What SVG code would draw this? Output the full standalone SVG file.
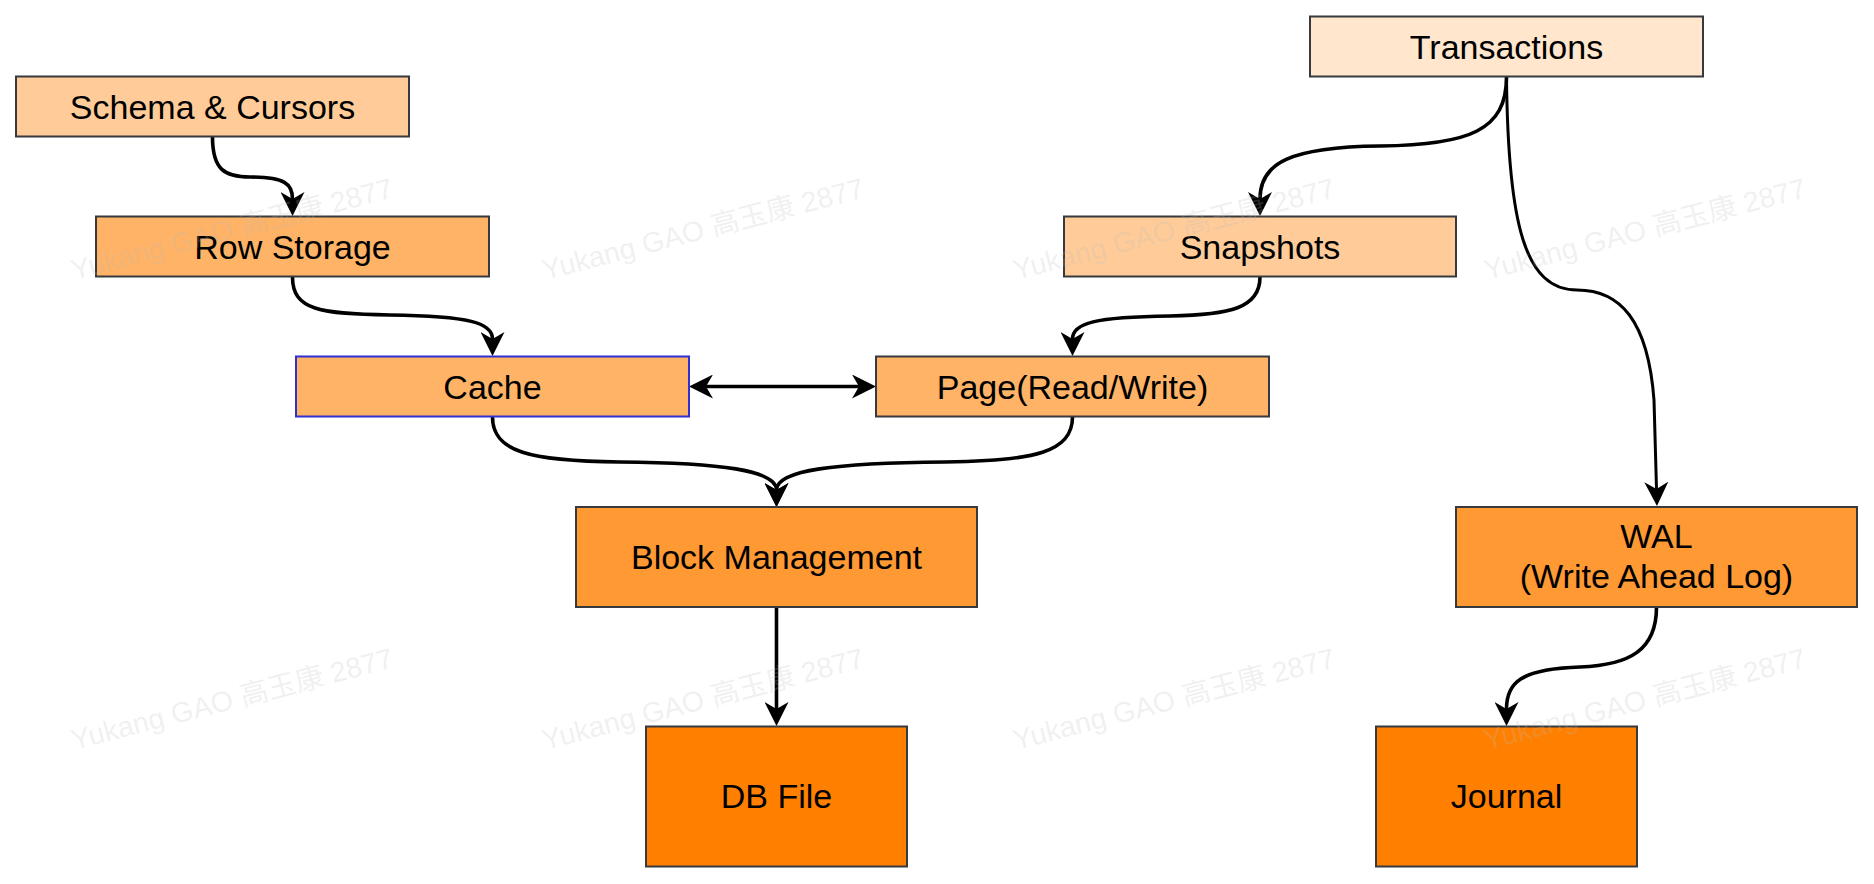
<svg xmlns="http://www.w3.org/2000/svg" width="1874" height="884" viewBox="0 0 1874 884">
<style>
.box{stroke:#36393d;stroke-width:2}
.lbl{font-family:"Liberation Sans",Arial,sans-serif;font-size:34px;fill:#000;text-anchor:middle}
.edge{fill:none;stroke:#000;stroke-width:3.6}
.thin{stroke-width:3}
.wm{font-family:"Liberation Sans","Noto Sans CJK SC",sans-serif;font-size:28.5px;fill:#bbbbbb;fill-opacity:0.22}
</style>
<defs>
<marker id="arr" markerUnits="userSpaceOnUse" viewBox="0 0 24 24" markerWidth="24" markerHeight="24" refX="7" refY="12" orient="auto-start-reverse">
<path d="M0,0 L24,12 L0,24 L7,12 Z" fill="#000"/>
</marker>
</defs>
<rect width="1874" height="884" fill="#ffffff"/>

<g id="connectors">
<path class="edge" d="M212.5,137 C212.5,170 225,177 250,177 C285,177 292.5,184 292.5,199" marker-end="url(#arr)"/>
<path class="edge" d="M292.5,277 C292.5,310 320,314 390,315 C470,316 492.5,323 492.5,339" marker-end="url(#arr)"/>
<path class="edge" d="M1506.5,77 C1506.5,130 1470,145 1380,146 C1290,147 1260,163 1260,199" marker-end="url(#arr)"/>
<path class="edge" d="M1260,277 C1260,308 1230,315 1170,316 C1095,317 1072.5,323 1072.5,339" marker-end="url(#arr)"/>
<path class="edge thin" d="M1506.5,77 C1508,225 1525,290 1577,290 C1620,290 1648,320 1654,400 L1656.5,489" marker-end="url(#arr)"/>
<path class="edge" d="M706,386.5 L859,386.5" marker-start="url(#arr)" marker-end="url(#arr)"/>
<path class="edge" d="M492.5,417 C492.5,452 530,461 620,462 C720,463 776.5,470 776.5,490" marker-end="url(#arr)"/>
<path class="edge" d="M1072.5,417 C1072.5,452 1035,461 945,462 C835,463 776.5,470 776.5,490" marker-end="url(#arr)"/>
<path class="edge" d="M776.5,607 L776.5,709" marker-end="url(#arr)"/>
<path class="edge" d="M1656.5,607 C1656.5,650 1630,665 1580,667 C1520,669 1506.5,683 1506.5,709" marker-end="url(#arr)"/>
</g>

<g id="schema"><rect class="box" x="16" y="76.5" width="393" height="60" fill="#ffcc99"/><text class="lbl" x="212.5" y="118.5">Schema &amp; Cursors</text></g>
<g id="transactions"><rect class="box" x="1310" y="16.5" width="393" height="60" fill="#ffe6cc"/><text class="lbl" x="1506.5" y="58.5">Transactions</text></g>
<g id="rowstorage"><rect class="box" x="96" y="216.5" width="393" height="60" fill="#ffb366"/><text class="lbl" x="292.5" y="258.5">Row Storage</text></g>
<g id="snapshots"><rect class="box" x="1064" y="216.5" width="392" height="60" fill="#ffcc99"/><text class="lbl" x="1260" y="258.5">Snapshots</text></g>
<g id="cache"><rect x="296" y="356.5" width="393" height="60" fill="#ffb366" stroke="#3030d0" stroke-width="2"/><text class="lbl" x="492.5" y="398.5">Cache</text></g>
<g id="page"><rect class="box" x="876" y="356.5" width="393" height="60" fill="#ffb366"/><text class="lbl" x="1072.5" y="398.5">Page(Read/Write)</text></g>
<g id="blockmgmt"><rect class="box" x="576" y="507" width="401" height="100" fill="#ff9933"/><text class="lbl" x="776.5" y="568.5">Block Management</text></g>
<g id="wal"><rect class="box" x="1456" y="507" width="401" height="100" fill="#ff9933"/><text class="lbl" x="1656.5" y="548">WAL</text><text class="lbl" x="1656.5" y="588">(Write Ahead Log)</text></g>
<g id="dbfile"><rect class="box" x="646" y="726.5" width="261" height="140" fill="#ff8000"/><text class="lbl" x="776.5" y="808">DB File</text></g>
<g id="journal"><rect class="box" x="1376" y="726.5" width="261" height="140" fill="#ff8000"/><text class="lbl" x="1506.5" y="808">Journal</text></g>

<g id="watermarks">
<text class="wm" transform="translate(74,280) rotate(-14.5)">Yukang GAO 高玉康 2877</text>
<text class="wm" transform="translate(545,280) rotate(-14.5)">Yukang GAO 高玉康 2877</text>
<text class="wm" transform="translate(1016,280) rotate(-14.5)">Yukang GAO 高玉康 2877</text>
<text class="wm" transform="translate(1487,280) rotate(-14.5)">Yukang GAO 高玉康 2877</text>
<text class="wm" transform="translate(74,750) rotate(-14.5)">Yukang GAO 高玉康 2877</text>
<text class="wm" transform="translate(545,750) rotate(-14.5)">Yukang GAO 高玉康 2877</text>
<text class="wm" transform="translate(1016,750) rotate(-14.5)">Yukang GAO 高玉康 2877</text>
<text class="wm" transform="translate(1487,750) rotate(-14.5)">Yukang GAO 高玉康 2877</text>
</g>
</svg>
